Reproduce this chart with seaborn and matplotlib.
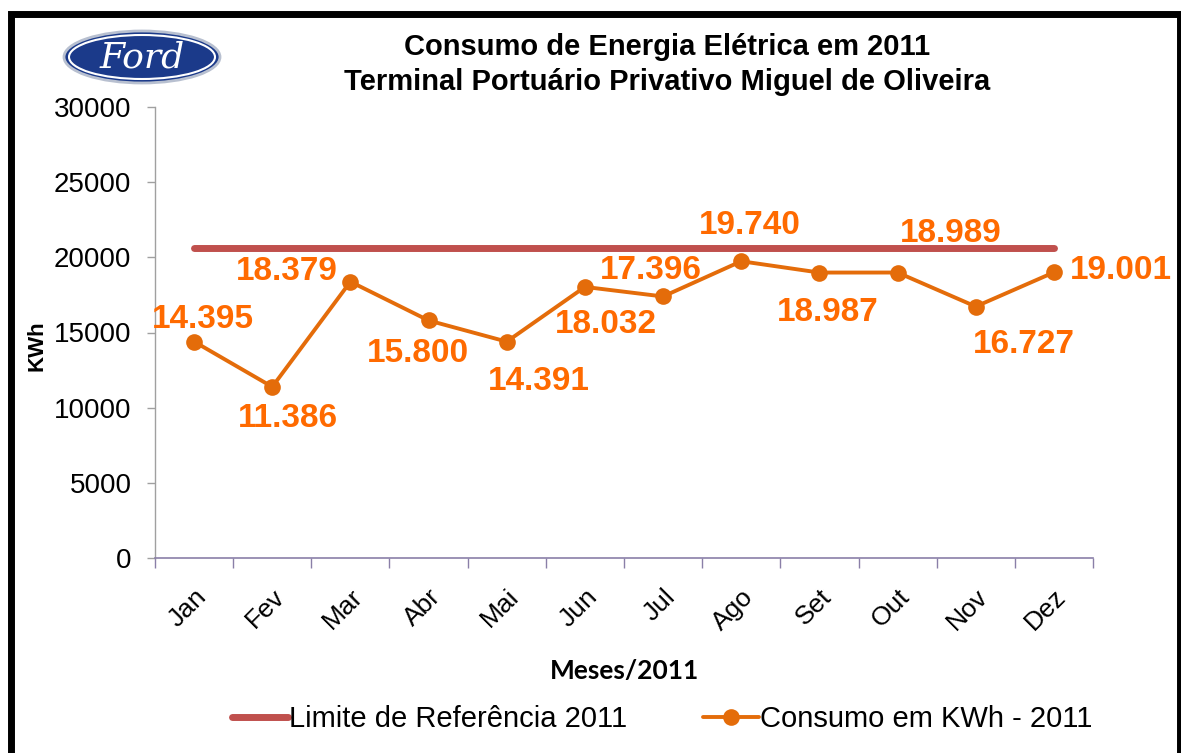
import matplotlib
matplotlib.use("Agg")
import numpy as np
import pandas as pd
import matplotlib.pyplot as plt
from matplotlib.patches import Ellipse, Rectangle
import seaborn as sns

# Data
meses = ["Jan", "Fev", "Mar", "Abr", "Mai", "Jun", "Jul", "Ago", "Set", "Out", "Nov", "Dez"]
consumo = [14395, 11386, 18379, 15800, 14391, 18032, 17396, 19740, 18987, 18989, 16727, 19001]
limite = [20600] * 12
rotulos = ["14.395", "11.386", "18.379", "15.800", "14.391", "18.032",
           "17.396", "19.740", "18.987", "18.989", "16.727", "19.001"]
# label offsets (points) relative to each marker
offsets = [(6, 16), (11, -23), (-46, 7), (-8, -24), (23, -29), (15, -27),
           (-9, 19), (6, 26), (6, -29), (38, 28), (35, -27), (48, 1)]

sns.set_theme(style="white")
plt.rcParams['font.family'] = ['Liberation Sans', 'DejaVu Sans']
plt.rcParams.update({'text.color': 'black', 'axes.labelcolor': 'black',
                     'xtick.labelcolor': 'black', 'ytick.labelcolor': 'black'})

df = pd.DataFrame({"idx": np.arange(12), "mes": meses, "consumo": consumo, "limite": limite})

fig = plt.figure(figsize=(11.81, 7.53), dpi=100)
ax = fig.add_axes([155 / 1181, 1 - 558 / 753, (1093 - 155) / 1181, (558 - 107) / 753])

sns.lineplot(data=df, x="idx", y="limite", ax=ax, color="#c0504d", linewidth=5,
             solid_capstyle="round", label="Limite de Referência 2011")
sns.lineplot(data=df, x="idx", y="consumo", ax=ax, color="#e46c0a", linewidth=2.8,
             marker="o", markersize=12, markeredgewidth=0, label="Consumo em KWh - 2011")

for i, (v, t) in enumerate(zip(consumo, rotulos)):
    ax.annotate(t, (i, v), xytext=offsets[i], textcoords="offset points",
                ha="center", va="center", fontsize=24, fontweight="bold", color="#ff6a00")

ax.set_xlim(-0.5, 11.5)
ax.set_ylim(0, 30000)
ax.set_yticks(range(0, 30001, 5000))
ax.set_xticks(range(12))
ax.set_xticklabels(meses, rotation=45, ha="right", rotation_mode="anchor", fontsize=19)
ax.set_xticks(np.arange(-0.5, 12, 1), minor=True)
ax.tick_params(axis="x", which="major", length=0, pad=19)
ax.tick_params(axis="x", which="minor", length=7, width=1, color="#8a7fa8", direction="out", bottom=True)
ax.tick_params(axis="y", length=6, width=1, color="#a0a0a0", labelsize=20, pad=11, left=True)

for s in ["top", "right"]:
    ax.spines[s].set_visible(False)
ax.spines["left"].set_color("#a0a0a0")
ax.spines["bottom"].set_color("#8a7fa8")
ax.spines["left"].set_linewidth(1)
ax.spines["bottom"].set_linewidth(1.2)

ax.set_xlabel("Meses/2011", fontsize=19, fontweight="bold", family=["Lato", "DejaVu Sans"])
ax.set_ylabel("KWh", fontsize=16, fontweight="bold")
ax.xaxis.set_label_coords(0.5, -0.225)
ax.yaxis.set_label_coords(-0.115, 0.47)

fig.text(667 / 1181, 1 - 47 / 753, "Consumo de Energia Elétrica em 2011", ha="center", va="center",
         fontsize=21, fontweight="bold")
fig.text(667 / 1181, 1 - 82 / 753, "Terminal Portuário Privativo Miguel de Oliveira", ha="center", va="center",
         fontsize=21, fontweight="bold")

leg = ax.legend(loc="center", bbox_to_anchor=(0.541, -0.358), ncol=2, frameon=False, fontsize=21,
                handlelength=1.9, columnspacing=2.6, handletextpad=0.05)

# Ford logo
fig.patches.append(Ellipse((142 / 1181, 1 - 57 / 753), 156 / 1181, 52 / 753, transform=fig.transFigure,
                           facecolor="#1b3a8a", edgecolor="#b8c0d0", linewidth=2, zorder=5))
fig.patches.append(Ellipse((142 / 1181, 1 - 57 / 753), 146 / 1181, 44 / 753, transform=fig.transFigure,
                           facecolor="none", edgecolor="white", linewidth=1.5, zorder=6))
fig.text(142 / 1181, 1 - 58 / 753, "Ford", ha="center", va="center", fontsize=26, color="white",
         style="italic", family=["DejaVu Serif"], zorder=7)

# black frame around slide
fig.patches.append(Rectangle((10.5 / 1181, -0.05), (1179.5 - 10.5) / 1181, 1.05 - 14 / 753,
                             transform=fig.transFigure, facecolor="none", edgecolor="black",
                             linewidth=5, zorder=10))

fig.savefig("out.png", dpi=100)
